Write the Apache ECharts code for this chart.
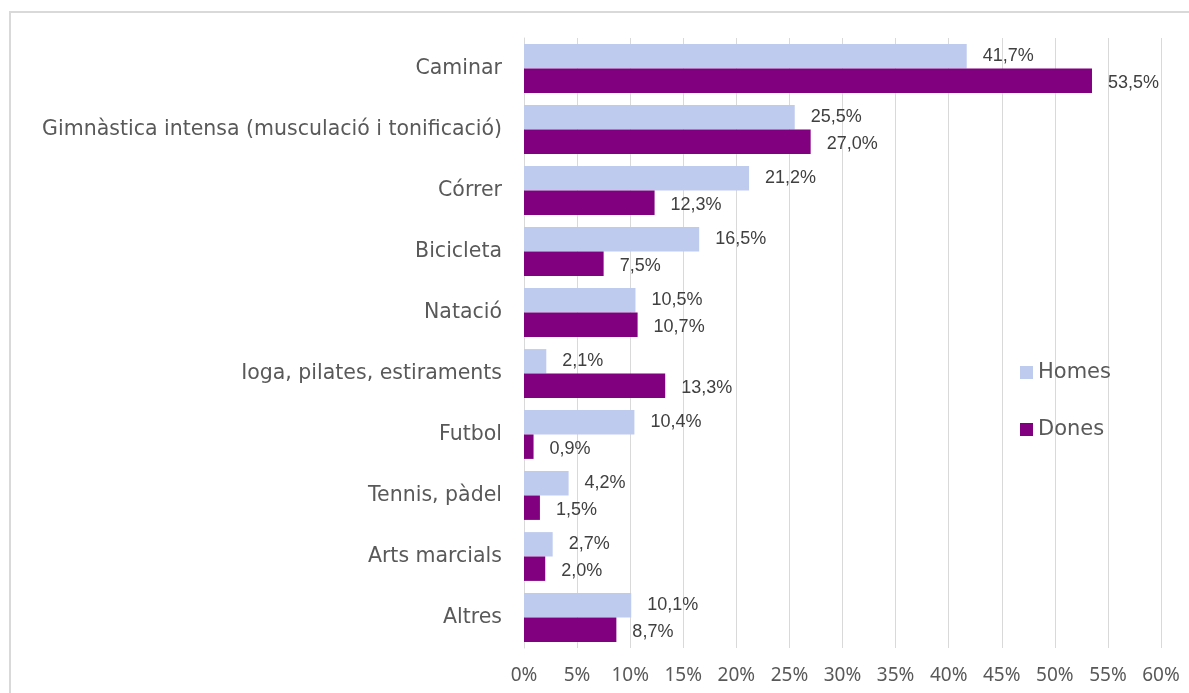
<!DOCTYPE html>
<html>
<head>
<meta charset="utf-8">
<script src="https://cdn.jsdelivr.net/npm/echarts@6/dist/echarts.min.js"></script>
<style>
  html, body { margin: 0; padding: 0; background: #fff; }
  #chart { width: 1189px; height: 693px; }
</style>
</head>
<body>
<div id="chart"></div>
<script>
const categories = ['Caminar', 'Gimnàstica intensa (musculació i tonificació)', 'Córrer', 'Bicicleta', 'Natació',
  'Ioga, pilates, estiraments', 'Futbol', 'Tennis, pàdel', 'Arts marcials', 'Altres']
const homes = [41.7, 25.5, 21.2, 16.5, 10.5, 2.1, 10.4, 4.2, 2.7, 10.1]
const dones = [53.5, 27.0, 12.3, 7.5, 10.7, 13.3, 0.9, 1.5, 2.0, 8.7]

const chart = echarts.init(document.getElementById('chart'), null, { renderer: 'canvas' })

const fmt = p => p.value.toFixed(1).replace('.', ',') + '%'

const option = {
  backgroundColor: '#ffffff',
  animation: false,
  graphic: [{
    type: 'rect',
    shape: { x: 10, y: 12, width: 1200, height: 700 },
    style: { fill: 'none', stroke: '#d9d9d9', lineWidth: 2 }
  }],
  grid: { left: 524, right: 28, top: 38, bottom: 45 },
  legend: {
    orient: 'vertical',
    left: 1015,
    top: 357,
    itemGap: 36,
    itemWidth: 13,
    itemHeight: 13,
    icon: 'rect',
    textStyle: { fontFamily: 'DejaVu Sans', fontSize: 21, color: '#595959' },
    data: ['Homes', 'Dones']
  },
  xAxis: {
    type: 'value',
    min: 0,
    max: 60,
    interval: 5,
    axisLine: { show: false },
    axisTick: { show: false },
    splitLine: { lineStyle: { color: '#d9d9d9', width: 1 } },
    axisLabel: { formatter: '{value}%', fontFamily: 'Noto Sans', fontSize: 19, color: '#595959', margin: 18 }
  },
  yAxis: {
    type: 'category',
    inverse: true,
    data: categories,
    axisLine: { show: true, lineStyle: { color: '#d9d9d9' } },
    axisTick: { show: false },
    axisLabel: { fontFamily: 'DejaVu Sans', fontSize: 20.5, color: '#595959', margin: 22 }
  },
  series: [
    {
      name: 'Homes',
      type: 'bar',
      data: homes,
      barGap: '0%',
      barCategoryGap: '20%',
      itemStyle: { color: '#bfcbee' },
      label: { show: true, position: 'right', distance: 16, formatter: fmt,
        fontFamily: 'Liberation Sans', fontSize: 18, color: '#404040' }
    },
    {
      name: 'Dones',
      type: 'bar',
      data: dones,
      itemStyle: { color: '#800080' },
      label: { show: true, position: 'right', distance: 16, offset: [0, 2], formatter: fmt,
        fontFamily: 'Liberation Sans', fontSize: 18, color: '#404040' }
    }
  ]
}

chart.setOption(option)
</script>
</body>
</html>
